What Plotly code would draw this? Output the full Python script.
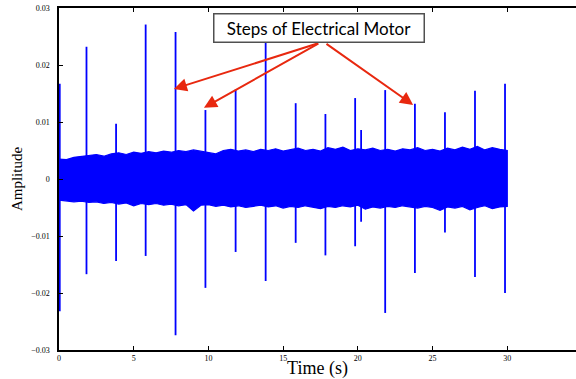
import plotly.graph_objects as go

# --- data ---
spike_t = [0.05, 1.84, 3.82, 5.80, 7.80, 9.80, 11.82, 13.83, 15.84, 17.83, 19.82, 20.22, 21.83, 23.82, 25.83, 27.84, 29.85]
spike_max = [0.0167, 0.0232, 0.0097, 0.0271, 0.0258, 0.0121, 0.0157, 0.0241, 0.0133, 0.0114, 0.0142, 0.0086, 0.0156, 0.0132, 0.0117, 0.0155, 0.0167]
spike_min = [-0.0232, -0.0167, -0.0144, -0.0135, -0.0274, -0.0191, -0.0128, -0.0179, -0.0112, -0.0134, -0.0118, -0.0075, -0.0235, -0.0165, -0.0094, -0.0172, -0.0200]

env_t = [i * 0.5 for i in range(61)]
env_upper = [0.0035, 0.0034, 0.0038, 0.0040, 0.0041, 0.0043, 0.0040, 0.0044, 0.0046, 0.0043,
             0.0047, 0.0045, 0.0048, 0.0046, 0.0049, 0.0047, 0.0050, 0.0048, 0.0051, 0.0049,
             0.0046, 0.0044, 0.0050, 0.0052, 0.0049, 0.0051, 0.0048, 0.0052, 0.0050, 0.0053,
             0.0049, 0.0051, 0.0054, 0.0050, 0.0052, 0.0049, 0.0055, 0.0052, 0.0056, 0.0050,
             0.0053, 0.0051, 0.0054, 0.0050, 0.0052, 0.0049, 0.0053, 0.0051, 0.0055, 0.0050,
             0.0052, 0.0049, 0.0054, 0.0051, 0.0056, 0.0052, 0.0057, 0.0051, 0.0055, 0.0052,
             0.0050]
env_lower = [-0.0037, -0.0038, -0.0040, -0.0039, -0.0041, -0.0040, -0.0043, -0.0041, -0.0044, -0.0042,
             -0.0047, -0.0043, -0.0045, -0.0043, -0.0046, -0.0044, -0.0047, -0.0045, -0.0056, -0.0046,
             -0.0045, -0.0048, -0.0046, -0.0049, -0.0047, -0.0050, -0.0048, -0.0046, -0.0049, -0.0047,
             -0.0051, -0.0048, -0.0050, -0.0047, -0.0049, -0.0052, -0.0048, -0.0050, -0.0047, -0.0049,
             -0.0046, -0.0053, -0.0049, -0.0051, -0.0048, -0.0050, -0.0047, -0.0049, -0.0051, -0.0048,
             -0.0050, -0.0055, -0.0049, -0.0051, -0.0048, -0.0054, -0.0050, -0.0047, -0.0052, -0.0049,
             -0.0048]

x_ticks = [0, 5, 10, 15, 20, 25, 30]
y_ticks = [-0.03, -0.02, -0.01, 0, 0.01, 0.02, 0.03]
y_ticktext = ["\u22120.03", "\u22120.02", "\u22120.01", "0", "0.01", "0.02", "0.03"]

label_text = "Steps of Electrical Motor"
label_pos = (17.42, 0.0265)
arrow_tails = [(17.45, 0.0239), (17.45, 0.0239), (17.80, 0.0239)]
arrow_tips = [(7.69, 0.0158), (9.70, 0.0125), (23.70, 0.0130)]

BLUE = "#0000ff"
RED = "#e8280f"

fig = go.Figure()

# noise band
fig.add_trace(go.Scatter(
    x=env_t + env_t[::-1],
    y=env_upper + env_lower[::-1],
    fill="toself", fillcolor=BLUE, mode="lines",
    line=dict(color=BLUE, width=1.2), hoverinfo="skip", showlegend=False))

# spikes
sx, sy = [], []
for t, hi, lo in zip(spike_t, spike_max, spike_min):
    sx += [t, t, None]
    sy += [hi, lo, None]
fig.add_trace(go.Scatter(x=sx, y=sy, mode="lines",
                         line=dict(color=BLUE, width=1.8), showlegend=False))

serif = "Liberation Serif, Times New Roman, serif"

fig.update_layout(
    width=576, height=379,
    margin=dict(l=59, r=0, t=8, b=29),
    plot_bgcolor="white", paper_bgcolor="white",
    showlegend=False,
    font=dict(family=serif, color="black"),
    xaxis=dict(range=[0, 34.6], tickvals=x_ticks, ticks="inside", ticklen=4,
               showline=True, linecolor="black", linewidth=1.5, mirror="ticks",
               tickcolor="black",
               showgrid=False, zeroline=False,
               tickfont=dict(size=8, family=serif, color="black"),
               title=dict(text="Time (s)", font=dict(size=18, family=serif, color="black"), standoff=0),
               automargin=False),
    yaxis=dict(range=[-0.03, 0.03], tickvals=y_ticks, ticktext=y_ticktext,
               ticks="inside", ticklen=4, showline=True, linecolor="black",
               tickcolor="black",
               linewidth=1.5, mirror=False, showgrid=False, zeroline=False,
               tickfont=dict(size=8, family=serif, color="black"), ticklabelstandoff=6,
               title=dict(text="Amplitude", font=dict(size=15, family=serif, color="black"), standoff=5),
               automargin=False),
)

for (tx, ty), (hx, hy) in zip(arrow_tails, arrow_tips):
    fig.add_annotation(x=hx, y=hy, ax=tx, ay=ty, xref="x", yref="y", axref="x", ayref="y",
                       text="", showarrow=True, arrowhead=2, arrowsize=1.3,
                       arrowwidth=2, arrowcolor=RED)

fig.add_annotation(x=label_pos[0], y=label_pos[1], xref="x", yref="y",
                   text=label_text, showarrow=False,
                   font=dict(family="Lato, Open Sans, sans-serif", size=17, color="black"),
                   bgcolor="white", bordercolor="#505050", borderwidth=1.5,
                   width=207, height=25, borderpad=1)

fig.write_html("out.html", config={"displayModeBar": False},
               post_script="document.body.style.margin='0';")
